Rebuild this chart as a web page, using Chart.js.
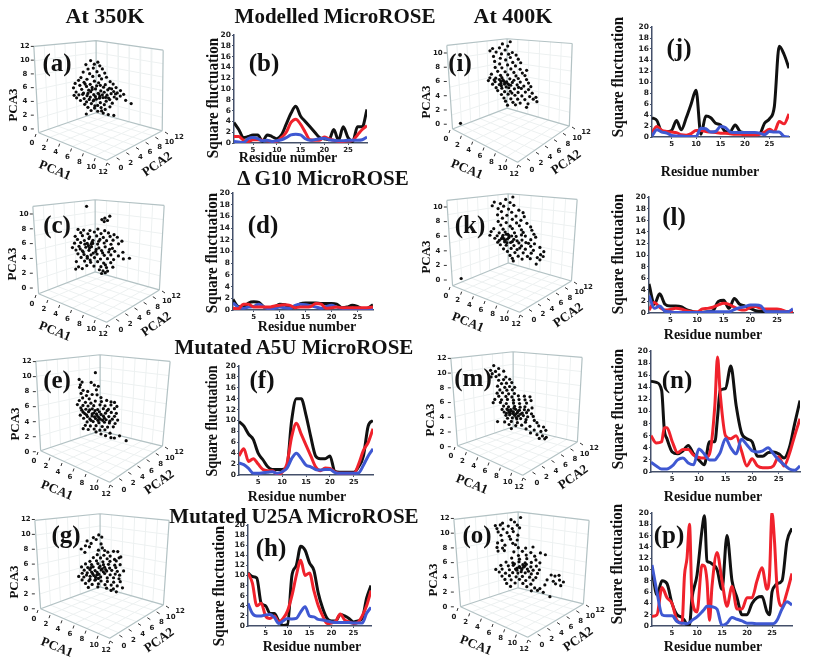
<!DOCTYPE html>
<html>
<head>
<meta charset="utf-8">
<title>MicroROSE PCA and square fluctuation</title>
<script src="https://cdn.jsdelivr.net/npm/chart.js@4"></script>
<style>
  html, body { margin: 0; padding: 0; background: #fff; }
  #page { position: relative; width: 813px; height: 665px; overflow: hidden; filter: blur(0.35px); }
  canvas { position: absolute; }
  .txt { position: absolute; white-space: nowrap; font-family: "Liberation Serif", serif; font-weight: bold; color: #111; transform-origin: center; }
</style>
</head>
<body>
<div id="page"></div>
<script>
// tick labels
const pca3Ticks = [0, 2, 4, 6, 8, 10, 12];
const pca3TicksShort = [0, 2, 4, 6, 8, 10];
const pcaTicks = [0, 2, 4, 6, 8, 10, 12];
const fluctTicks = [0, 2, 4, 6, 8, 10, 12, 14, 16, 18, 20];
const residueTicks = [5, 10, 15, 20, 25];

// residues
const residues28 = [1,2,3,4,5,6,7,8,9,10,11,12,13,14,15,16,17,18,19,20,21,22,23,24,25,26,27,28];
const residues29 = [1,2,3,4,5,6,7,8,9,10,11,12,13,14,15,16,17,18,19,20,21,22,23,24,25,26,27,28,29];
const residuesN = [1,2,3,3.5,4,5,6,7,8,9,10,11,12,13,13.5,14,15,16,17,18,19,20,21,22,23,24,25,26,27,28,29];
const residuesP = [1,2,3,4,5,6,7,7.5,8,8.5,9,10,11,11.5,12,12.5,13,14,15,16,17,18,19,20,21,22,23,24,24.5,25,25.5,26,27,28,29];

// square fluctuation series
const bBlack = [3.8,2.5,1,1.2,1.5,1.5,.3,1.5,1.2,.8,1.5,3.5,5.5,6.8,5,4,3,2,1,.8,.6,2.5,.5,3,1,.3,3,3,6.2];
const bRed = [1.2,1.2,.5,.3,.6,.6,.5,.4,.3,.3,1,2,3.8,4.4,3.5,2,.6,.5,.5,1.1,.8,.5,.3,.3,.4,.5,1.5,2.5,3.2];
const bBlue = [.3,.2,.1,.8,1,.8,.4,.5,.3,.4,.6,1,1.5,1.6,1.5,.8,.5,.6,.8,.9,.6,.5,.4,.4,.5,.5,.5,.6,1.1];

const dBlack = [1.8,.6,.5,1.2,1.4,1.3,.5,.4,.5,1,.9,.4,.5,1.1,1.2,1.2,1.2,1.1,1.1,1.1,1,.4,.5,.8,.6,.2,.3,.9];
const dRed = [.3,.2,1,1,.5,.5,.5,.5,.7,.8,.9,.8,.4,.5,.5,.6,1.1,1,.3,.4,.5,.4,.4,.4,.4,.4,.4,.5];
const dBlue = [1.2,.5,.3,.5,.6,1,.5,.2,.3,.5,.4,.3,.8,1,.9,.7,.5,.3,.6,.8,.5,.3,.2,.2,.2,.2,.2,.2];

const fBlack = [9.8,9,7.5,6.5,4,2.8,1.5,1,1,1,1.5,10,14,14,11,7,3.5,3,3,3.5,.7,.5,.5,.5,.5,1.5,3.5,9,10];
const fRed = [3.5,4.8,2.5,3,2,1,.8,.8,.1,.5,2,7,9.5,7.5,5.5,3.5,1.5,.8,1.3,1.2,.6,.3,.3,.3,.3,2,4.5,6,8.5];
const fBlue = [2.2,1.9,1.2,.3,.3,.4,.5,.6,.3,.6,1.2,3,4,3,1.8,1.5,1,.9,1,1,.5,.3,.3,.3,.3,.4,1.8,3.5,4.8];

const hBlack = [10.5,9.8,9.5,4.5,4,2.5,2.5,1,.1,.3,10,12,15.8,15,12.5,11,6.5,3.5,1.5,1,1,2.3,2,1.5,.8,1,1.5,5.5,8];
const hRed = [10.5,8.5,4,4.5,2,1.5,2,.8,1.5,3,6,10,13,10,10.5,7,4,2,.5,.6,1,2.4,1.2,.8,.5,.7,2,4,7];
const hBlue = [4.5,2.5,2,2,2.2,2.3,1.7,.5,1,1.5,1.4,1.5,2.8,3.8,2,1.8,1.3,1.2,1,.8,.7,.7,.7,.7,.6,.6,.6,2.5,3.7];

const jBlack = [3.5,3,1,1,1.2,3,1.3,3.5,6,8.5,.5,3.8,3.5,2.5,2.2,1,1,2.2,1,.8,.7,.6,.6,2.5,3.3,5.5,16.5,15,12.5];
const jRed = [.8,1.9,1.2,1,.9,.8,.4,.3,.6,1.2,1.2,1,.9,.8,.7,.7,.6,.5,.5,.4,.4,.4,.5,.9,1.4,1,2.8,2.4,4.2];
const jBlue = [.2,1.3,.9,.7,.3,.2,.2,.1,.1,.1,1.6,1.5,.9,1,1.9,1.7,.9,.8,.8,.8,.8,.8,.7,.4,1,.9,.9,.1,0];

const lBlack = [5,1.5,3.3,1.5,1.2,1.2,1.1,.6,.3,.1,.1,.2,.4,2,2.2,.8,2.5,1.5,1.2,.8,.4,.3,.2,.2,.2,.2,.2,.2];
const lRed = [.5,1.8,1,.5,.6,.8,.7,.4,.2,.2,.7,.8,1,1.4,1.7,1.5,1,.6,.5,1,1.1,.8,.7,.7,.7,.5,.2,.3];
const lBlue = [3,.8,1.2,.3,.2,.1,.1,.1,.1,.1,.1,.2,.2,.2,.2,.2,.6,.9,1.1,1.4,1.4,1.2,.2,.2,.2,.2,.2,.7];

const nBlack = [15,14.8,13.5,7,5.5,3.3,3,3.5,4.4,3,2,1.2,5,5,9,13.5,13.8,17.5,11,6.5,5.5,5,2.6,2.6,3.2,3.3,3,2.3,4,8,11.8];
const nRed = [6,4.8,5,7.3,7.3,5,3.2,3.7,3.7,2.8,2.4,2.3,3,11,19,13,6,5.5,6,3.5,1,2.2,1,.7,.7,1,2.5,1,3,6,8.8];
const nBlue = [1.6,1,.5,.5,.5,1,2,2.3,1.5,1.2,3.8,3,2,2,2.5,3.2,5.5,4,3,5.4,4.5,3.5,3.3,3.5,4,3,2,1.2,.5,.3,1];

const pBlack = [10,5.5,8,7.5,4,2,1.5,1,.2,.2,5,9,17,19.5,11.5,11.3,11,10,6.5,16,8,5,2,2,4,5,5.2,2.5,2,6,7,7.5,8,15,17.3];
const pRed = [1.7,2,6.8,5,4,1,.5,9,12,18,5,2.5,10.8,10.6,8,1,7,13,8,3.5,7,3,3,5,5,8,10.3,6.5,9,20,15,7,3.5,6,9.3];
const pBlue = [10.8,6,2,1.8,1.8,.8,.5,.5,.4,.6,1,1.6,2.5,3,3.5,3.5,3.4,3,.1,.5,1.5,1.2,.9,.5,.5,.4,.4,.4,.4,.4,.5,1,3,4.3,3.7];

// PCA scatter clouds, read as [across the box 0-12, PCA3]
const scatterA = [[5.27,9.93],[5.94,9.71],[5.61,9.42],[4.83,9.36],[6.12,9.18],[5.52,8.84],[5.03,8.71],[6.36,8.73],[5.86,8.33],[4.58,8.27],[6.58,8.12],[5.18,8.03],[6.07,7.74],[4.37,7.46],[5.47,7.63],[6.74,7.51],[4.93,7.22],[6.28,7.27],[4.15,7.06],[5.62,6.94],[7.08,6.87],[3.83,6.62],[4.66,6.78],[5.23,6.49],[6.01,6.71],[6.63,6.43],[7.36,6.52],[4.27,6.34],[3.68,5.97],[4.89,6.18],[5.41,6.03],[5.83,6.27],[6.47,6.07],[7.02,5.91],[7.63,6.01],[4.44,5.76],[5.09,5.63],[5.72,5.81],[6.21,5.52],[6.86,5.69],[7.41,5.44],[8.04,5.58],[3.92,5.37],[4.61,5.21],[5.28,5.42],[5.97,5.19],[6.53,5.33],[7.17,5.12],[7.74,5.24],[8.33,5.03],[4.18,4.96],[4.94,4.83],[5.56,4.98],[6.13,4.72],[6.79,4.91],[7.46,4.64],[8.02,4.77],[3.97,4.52],[4.67,4.41],[5.24,4.63],[5.81,4.34],[6.42,4.56],[7.04,4.27],[7.69,4.38],[8.52,4.16],[4.33,4.13],[4.89,3.94],[5.51,4.08],[6.17,3.82],[6.71,4.03],[7.28,3.74],[9.03,3.69],[4.72,3.57],[5.34,3.69],[5.92,3.41],[6.54,3.52],[7.06,3.22],[5.02,3.14],[5.63,3.03],[6.24,3.11],[6.62,2.84],[5.31,2.68],[5.93,2.57],[6.44,2.31],[4.87,2.17],[6.91,2.09],[7.42,1.96],[6.29,2.62],[5.58,4.22],[6.04,5.07],[5.02,5.16],[6.66,4.58],[5.41,5.74],[4.53,5.03],[6.36,4.97],[7.22,5.83],[5.71,4.71],[6.93,4.49],[5.14,4.29],[4.76,6.52],[6.17,6.34],[5.66,3.36],[7.58,5.08],[3.74,4.88],[6.09,4.47]];
const scatterC = [[4.91,11.03],[6.58,9.43],[7.03,9.71],[6.31,9.24],[6.52,8.97],[6.82,9.12],[4.13,7.92],[4.64,7.83],[5.22,7.77],[5.94,7.96],[6.57,7.74],[4.38,7.48],[5.03,7.33],[5.62,7.57],[6.23,7.36],[6.91,7.44],[7.42,7.21],[3.87,6.98],[4.53,7.07],[5.19,6.92],[5.83,7.04],[6.44,6.83],[7.06,6.97],[7.72,6.86],[4.08,6.57],[4.71,6.42],[5.12,6.68],[5.49,6.44],[6.13,6.56],[6.74,6.39],[7.33,6.47],[8.14,6.33],[3.81,6.06],[4.37,6.14],[4.97,6.02],[5.41,6.19],[5.92,5.94],[6.52,6.08],[7.14,5.91],[7.83,5.97],[3.62,5.47],[4.22,5.63],[4.84,5.51],[5.36,5.58],[6.03,5.42],[6.61,5.57],[7.27,5.36],[3.94,5.14],[4.53,5.02],[5.13,5.09],[5.74,4.93],[6.28,5.06],[6.93,4.87],[7.48,4.96],[8.23,4.83],[4.12,4.62],[4.68,4.53],[5.32,4.48],[5.87,4.59],[6.53,4.42],[7.13,4.47],[7.82,4.33],[4.41,4.14],[4.98,4.03],[5.63,4.11],[6.18,3.92],[6.82,3.97],[7.38,3.84],[8.27,3.93],[8.83,4.02],[3.98,3.58],[4.73,3.64],[5.28,3.47],[5.92,3.56],[6.47,3.37],[7.12,3.43],[4.18,2.87],[4.93,3.04],[5.58,2.96],[6.22,2.88],[6.73,2.77],[7.31,2.82],[3.92,2.56],[4.52,2.63],[6.08,2.47],[6.41,2.31],[6.62,2.08],[6.83,2.29],[6.28,1.96],[5.08,5.72],[5.33,5.94],[4.97,4.27],[5.18,5.41],[5.47,6.03],[4.76,5.93],[5.52,4.72],[6.02,6.32],[4.61,4.86],[5.24,3.78],[6.38,4.74],[7.01,5.23],[5.79,5.22],[4.33,5.28],[6.63,3.12]];
const scatterE = [[5.32,10.52],[3.87,9.63],[4.13,9.27],[3.98,8.91],[3.91,8.57],[4.94,9.23],[5.23,8.86],[5.58,8.72],[4.22,8.18],[4.63,8.03],[5.41,8.24],[4.04,7.77],[4.52,7.48],[5.03,7.62],[5.47,7.58],[5.82,7.21],[4.18,7.17],[4.77,7.04],[3.88,6.82],[4.43,6.58],[4.92,6.47],[5.31,6.74],[5.86,6.68],[6.33,6.83],[6.72,6.63],[7.03,6.57],[3.71,6.28],[4.21,6.17],[4.66,6.09],[5.17,6.13],[5.73,6.24],[6.18,6.12],[6.71,6.22],[7.24,6.03],[4.02,5.83],[4.47,5.66],[5.04,5.72],[5.52,5.61],[6.03,5.74],[6.48,5.63],[7.02,5.73],[4.23,5.27],[4.71,5.34],[5.18,5.16],[5.68,5.31],[6.22,5.14],[6.74,5.23],[7.19,5.12],[3.97,4.87],[4.53,4.92],[5.02,4.76],[5.47,4.83],[6.04,4.74],[6.52,4.68],[7.03,4.72],[4.27,4.46],[4.82,4.37],[5.33,4.43],[5.76,4.34],[6.28,4.26],[6.83,4.33],[7.31,4.21],[4.58,3.97],[5.12,4.02],[5.63,3.87],[6.13,3.93],[6.57,3.84],[7.08,3.76],[4.42,3.52],[4.87,3.44],[5.38,3.47],[5.93,3.36],[6.41,3.28],[6.92,3.32],[4.23,3.07],[4.68,2.96],[5.21,3.03],[5.72,2.88],[6.17,2.93],[6.63,2.47],[5.38,2.64],[5.82,2.36],[6.23,2.14],[6.71,1.87],[7.02,1.83],[7.48,2.12],[8.07,1.48],[5.03,5.04],[5.61,4.57],[4.81,5.57],[5.24,4.66],[5.97,4.18],[4.37,5.08],[4.93,4.18],[5.42,5.03],[5.83,4.97],[6.37,5.47],[4.61,4.68],[5.29,5.48],[6.61,4.07],[4.11,5.53],[5.54,4.18],[6.12,4.47]];
const scatterG = [[5.71,9.92],[5.23,9.57],[5.48,9.31],[5.98,9.63],[4.67,9.12],[5.03,8.78],[4.52,8.47],[4.88,8.33],[5.92,8.71],[6.03,8.18],[4.14,8.03],[5.68,7.87],[6.24,7.83],[4.47,7.58],[6.52,7.61],[7.03,7.72],[7.41,7.68],[5.58,7.27],[6.17,7.19],[6.73,7.08],[7.68,6.97],[5.23,6.88],[5.87,6.83],[6.46,6.72],[7.12,6.63],[7.53,6.84],[4.92,6.37],[5.51,6.44],[6.08,6.32],[6.71,6.38],[7.27,6.43],[4.53,6.02],[5.07,5.94],[5.63,6.07],[6.13,5.93],[6.58,5.97],[7.14,5.86],[7.62,5.92],[4.17,5.62],[4.73,5.53],[5.21,5.64],[5.74,5.52],[6.23,5.58],[6.68,5.47],[7.23,5.53],[4.41,5.18],[4.92,5.26],[5.38,5.13],[5.93,5.22],[6.42,5.07],[6.87,5.16],[7.37,5.03],[7.93,5.08],[4.23,4.77],[4.68,4.84],[5.17,4.72],[5.72,4.63],[6.24,4.74],[6.73,4.57],[7.18,4.66],[3.92,4.34],[4.38,4.27],[4.94,4.36],[5.43,4.22],[5.88,4.28],[6.47,4.14],[7.03,4.17],[7.52,4.03],[4.22,3.87],[4.83,3.76],[5.37,3.84],[5.92,3.73],[6.48,3.68],[7.04,3.57],[7.63,3.64],[4.53,3.41],[5.12,3.27],[5.68,3.36],[6.27,3.24],[6.82,3.18],[7.36,3.07],[4.78,2.87],[5.63,2.93],[6.41,2.76],[7.02,2.68],[7.83,2.81],[5.42,3.93],[5.53,4.54],[5.01,5.53],[6.02,5.37],[6.81,2.47],[7.28,2.27],[5.27,4.47],[5.68,4.08],[5.07,4.93],[5.57,4.88],[6.12,4.96],[4.62,4.53],[5.83,5.74],[6.33,5.26],[4.93,3.94],[7.57,4.52]];
const scatterI = [[1.31,0.12],[6.07,11.58],[5.32,11.27],[5.83,10.97],[4.38,10.63],[5.04,10.72],[4.13,10.31],[5.58,10.42],[6.27,10.07],[4.72,10.13],[5.23,9.87],[5.92,9.83],[6.63,9.71],[4.47,9.52],[6.08,9.37],[5.12,9.26],[5.63,9.03],[6.84,9.13],[4.58,8.82],[6.31,8.67],[7.07,8.63],[5.06,8.47],[5.82,8.33],[6.57,8.18],[4.63,7.97],[5.27,7.92],[6.13,7.77],[7.02,7.72],[7.64,7.57],[4.87,7.43],[5.58,7.37],[6.42,7.27],[7.23,7.18],[4.27,7.03],[5.14,6.87],[5.83,6.93],[6.62,6.78],[7.48,6.83],[4.12,6.52],[4.68,6.47],[5.27,6.54],[6.03,6.37],[6.84,6.42],[7.63,6.27],[3.98,6.13],[4.62,5.97],[5.18,6.03],[5.72,5.96],[6.27,5.87],[7.03,5.92],[7.82,5.77],[4.38,5.62],[5.03,5.57],[5.52,5.63],[6.12,5.47],[6.73,5.53],[7.37,5.36],[8.04,5.27],[4.72,5.13],[5.27,5.06],[5.93,5.12],[6.47,4.97],[7.13,5.03],[7.82,4.87],[4.87,4.73],[5.53,4.57],[6.08,4.63],[6.82,4.47],[7.52,4.52],[8.17,4.36],[5.23,4.17],[5.87,4.22],[6.52,4.07],[7.18,3.97],[7.93,3.88],[8.53,3.77],[5.47,3.68],[6.13,3.57],[6.78,3.52],[7.47,3.46],[8.27,3.52],[8.62,3.17],[5.62,3.23],[6.33,3.07],[7.02,2.97],[7.77,2.87],[5.81,2.68],[6.57,2.72],[7.63,2.37],[5.38,6.23],[5.61,5.82],[5.22,5.41],[5.84,5.67],[5.47,6.02],[5.03,6.28],[5.68,5.23],[5.97,5.53],[6.42,6.17],[5.18,5.73],[6.23,4.37],[4.53,6.23],[6.87,5.17]];
const scatterK = [[1.32,0.21],[6.08,11.37],[5.42,11.04],[4.37,10.68],[4.93,10.47],[5.82,10.62],[4.18,10.17],[5.23,10.12],[6.17,10.23],[4.72,9.78],[5.68,9.72],[6.63,9.57],[5.03,9.37],[5.97,9.28],[7.02,9.23],[4.67,8.93],[5.53,8.87],[6.37,8.76],[7.13,8.67],[5.12,8.47],[6.03,8.32],[6.82,8.18],[4.73,8.03],[5.47,7.87],[6.42,7.82],[7.37,7.76],[4.97,7.53],[5.83,7.37],[6.68,7.43],[7.72,7.27],[4.32,7.03],[5.18,6.97],[6.03,7.04],[6.87,6.87],[7.83,6.82],[4.08,6.63],[4.82,6.47],[5.37,6.58],[6.23,6.47],[7.03,6.52],[8.02,6.27],[3.97,6.13],[4.63,6.06],[5.17,6.12],[5.72,6.07],[6.38,5.97],[7.23,6.02],[8.18,5.87],[4.42,5.72],[5.03,5.66],[5.58,5.62],[6.17,5.57],[6.92,5.47],[7.73,5.53],[4.68,5.17],[5.32,5.23],[5.87,5.14],[6.63,5.08],[7.28,5.13],[8.07,4.97],[4.93,4.83],[5.47,4.76],[6.18,4.72],[6.87,4.67],[7.72,4.62],[8.57,4.47],[5.22,4.27],[5.92,4.33],[6.47,4.17],[7.23,4.22],[7.97,4.07],[8.93,3.88],[5.58,3.92],[6.27,3.76],[7.03,3.72],[7.77,3.67],[8.63,3.47],[5.82,3.37],[6.57,3.27],[7.42,3.23],[8.33,3.07],[8.87,3.22],[6.03,2.97],[6.93,2.87],[7.68,2.92],[8.57,2.77],[6.12,2.62],[8.23,2.18],[5.47,6.27],[5.72,5.82],[5.37,5.43],[5.97,6.03],[5.12,5.87],[5.62,6.27],[5.28,5.63],[6.47,5.37],[6.03,5.27],[5.53,5.12],[6.72,4.37],[7.52,5.03],[4.83,5.43],[6.87,6.17]];
const scatterM = [[3.92,11.02],[4.37,10.63],[3.63,10.38],[4.08,10.23],[4.83,10.27],[3.78,9.92],[4.41,9.77],[3.68,9.48],[4.13,9.53],[5.02,9.47],[4.37,9.03],[4.82,9.12],[5.38,9.17],[4.63,8.58],[5.08,8.63],[5.57,8.72],[4.27,8.23],[4.93,8.07],[5.37,8.18],[5.83,8.07],[4.48,7.72],[5.12,7.68],[5.62,7.73],[4.23,7.27],[4.72,7.33],[5.28,7.18],[5.81,7.23],[4.38,6.87],[5.03,6.83],[5.58,6.77],[6.17,6.92],[6.72,6.87],[7.23,6.78],[4.02,6.42],[4.63,6.37],[5.17,6.43],[5.72,6.33],[6.23,6.41],[6.78,6.37],[7.33,6.27],[3.87,5.98],[4.53,6.02],[5.07,5.87],[5.73,5.93],[6.28,5.87],[6.92,5.93],[4.82,5.52],[5.27,5.43],[5.83,5.47],[6.33,5.37],[6.77,5.43],[7.42,5.27],[4.68,5.07],[5.13,5.12],[5.47,5.03],[5.92,5.08],[6.27,4.97],[6.72,5.03],[7.08,4.97],[4.87,4.72],[5.32,4.67],[5.72,4.73],[6.08,4.62],[6.53,4.57],[6.92,4.63],[7.37,4.47],[5.03,4.27],[5.37,4.33],[5.83,4.27],[6.18,4.18],[6.63,4.23],[7.02,4.07],[7.53,4.12],[5.18,3.87],[5.62,3.93],[6.03,3.77],[6.38,3.83],[6.87,3.67],[7.63,3.57],[4.27,3.42],[4.92,3.37],[5.53,3.43],[6.08,3.27],[6.82,3.33],[7.87,3.27],[5.32,3.02],[5.93,2.87],[6.47,2.93],[7.23,2.77],[8.03,2.83],[8.47,2.68],[5.53,2.47],[6.87,2.42],[7.62,2.27],[8.23,2.08],[8.68,2.23],[7.28,1.87],[7.87,1.63],[8.37,1.47],[8.72,1.27],[8.08,1.12],[8.58,1.07],[5.68,4.52],[5.52,4.87],[5.93,4.43],[5.23,4.97],[5.77,5.23],[6.13,4.83],[5.43,4.53],[5.97,3.97],[5.07,4.52],[6.37,4.43]];
const scatterO = [[5.92,12.13],[5.07,11.83],[4.32,11.37],[5.38,11.52],[3.68,11.03],[4.12,11.12],[4.83,10.97],[5.63,11.08],[3.82,10.62],[4.37,10.57],[5.18,10.63],[5.83,10.72],[3.93,10.17],[4.72,10.07],[5.27,10.22],[4.18,9.72],[4.92,9.57],[5.68,9.73],[5.03,9.18],[5.62,9.07],[4.27,9.02],[3.88,8.68],[5.23,8.62],[4.53,8.37],[5.47,8.43],[3.83,8.07],[4.32,7.97],[5.72,8.03],[6.37,7.97],[7.02,8.12],[3.92,7.57],[4.48,7.63],[5.32,7.47],[6.08,7.53],[6.83,7.37],[7.68,7.32],[8.12,7.07],[5.73,6.97],[6.42,7.03],[7.17,6.87],[5.13,6.62],[5.82,6.47],[6.47,6.53],[7.28,6.37],[4.63,6.07],[5.23,5.97],[5.78,6.12],[6.32,5.96],[6.87,6.03],[7.63,5.97],[4.17,5.63],[4.83,5.57],[5.27,5.63],[5.82,5.47],[6.28,5.52],[6.83,5.43],[7.32,5.53],[3.72,5.07],[4.28,5.13],[4.93,5.03],[5.47,5.12],[6.03,5.07],[6.52,5.13],[7.03,4.97],[7.58,5.03],[4.03,4.73],[4.58,4.57],[5.22,4.63],[5.68,4.58],[6.33,4.62],[6.87,4.47],[7.42,4.53],[4.27,4.17],[4.93,4.23],[5.52,4.07],[6.08,4.13],[6.72,4.03],[7.27,3.97],[8.63,4.32],[8.97,4.17],[9.33,4.27],[4.53,3.72],[5.08,3.67],[5.82,3.73],[6.38,3.57],[7.03,3.63],[8.27,3.67],[8.82,3.47],[9.37,3.63],[9.72,3.37],[4.68,3.17],[5.43,3.23],[6.12,3.17],[6.83,3.07],[8.07,2.97],[9.02,3.12],[9.48,2.87],[5.03,2.77],[6.47,2.73],[7.17,2.57],[7.63,2.47],[6.87,2.17],[7.42,2.23],[7.93,1.97],[8.52,1.37],[5.87,5.33],[6.12,5.72],[5.58,4.97],[6.17,5.37],[5.62,5.27],[5.97,4.77],[6.43,5.77],[5.37,5.82],[6.62,4.83]];

// panel layout, page pixels
const lineLayouts = [
  { id: 'b', axisX: 234, end: 367, top: 35, bottom: 143, x: residues29, black: bBlack, red: bRed, blue: bBlue },
  { id: 'd', axisX: 233, end: 373, top: 193, bottom: 310, x: residues28, black: dBlack, red: dRed, blue: dBlue, redOnTop: true },
  { id: 'f', axisX: 239, end: 373, top: 366, bottom: 475, x: residues29, black: fBlack, red: fRed, blue: fBlue },
  { id: 'h', axisX: 248, end: 371, top: 525, bottom: 626, x: residues29, black: hBlack, red: hRed, blue: hBlue },
  { id: 'j', axisX: 652, end: 789, top: 27, bottom: 137, x: residues29, black: jBlack, red: jRed, blue: jBlue },
  { id: 'l', axisX: 649, end: 793, top: 197, bottom: 313, x: residues28, black: lBlack, red: lRed, blue: lBlue },
  { id: 'n', axisX: 651, end: 800, top: 351, bottom: 472, x: residuesN, black: nBlack, red: nRed, blue: nBlue },
  { id: 'p', axisX: 652, end: 792, top: 513, bottom: 626, x: residuesP, black: pBlack, red: pRed, blue: pBlue }
];

const boxLayouts = [
  { id: 'a', pts: scatterA, ticks: pca3Ticks, axisX: 31, y0: 130, unit: 7.25, LT: [31,43], BT: [96,37], RT: [166,47], LB: [36,134], BB: [96,113], RB: [165,132], F: [107,163] },
  { id: 'c', pts: scatterC, ticks: pca3TicksShort, axisX: 30, y0: 289, unit: 7.8, LT: [30,203], BT: [95,196], RT: [167,202], LB: [36,295], BB: [95,272], RB: [162,291], F: [107,325] },
  { id: 'e', pts: scatterE, ticks: pca3Ticks, axisX: 33, y0: 453, unit: 7.9, LT: [33,358], BT: [100,351], RT: [173,358], LB: [38,452], BB: [100,431], RB: [165,447], F: [110,485] },
  { id: 'g', pts: scatterG, ticks: pca3Ticks, axisX: 32, y0: 610, unit: 7.83, LT: [32,517], BT: [100,510], RT: [172,517], LB: [38,610], BB: [100,587], RB: [166,606], F: [110,641] },
  { id: 'i', pts: scatterI, ticks: pca3TicksShort, axisX: 444, y0: 125, unit: 7.5, LT: [444,42], BT: [507,35], RT: [575,40], LB: [450,130], BB: [507,108], RB: [572,127], F: [518,165] },
  { id: 'k', pts: scatterK, ticks: pca3TicksShort, axisX: 444, y0: 281, unit: 7.7, LT: [444,197], BT: [508,190], RT: [580,196], LB: [450,287], BB: [508,263], RB: [574,282], F: [520,315] },
  { id: 'm', pts: scatterM, ticks: pca3Ticks, axisX: 448, y0: 448, unit: 7.75, LT: [448,355], BT: [513,348], RT: [585,354], LB: [455,447], BB: [513,427], RB: [580,443], F: [523,478] },
  { id: 'o', pts: scatterO, ticks: pca3Ticks, axisX: 451, y0: 608, unit: 7.75, LT: [451,516], BT: [518,508], RT: [592,517], LB: [458,608], BB: [518,588], RB: [586,605], F: [528,640] }
];

const page = document.getElementById('page');

function addText(text, x, y, size, rot, squeeze) {
  const el = document.createElement('div');
  el.className = 'txt';
  el.textContent = text;
  el.style.left = x + 'px';
  el.style.top = y + 'px';
  el.style.fontSize = size + 'px';
  el.style.transform = `translate(-50%,-50%) rotate(${rot || 0}deg) scaleX(${squeeze || 1})`;
  page.appendChild(el);
}

function addCanvas(left, top, w, h) {
  const c = document.createElement('canvas');
  c.width = w; c.height = h;
  c.style.left = left + 'px';
  c.style.top = top + 'px';
  c.style.width = w + 'px';
  c.style.height = h + 'px';
  page.appendChild(c);
  return c;
}

const lerp = (a, b, t) => [a[0] + (b[0] - a[0]) * t, a[1] + (b[1] - a[1]) * t];

function createLineChart(p) {
  const leftW = 24, topP = 8, axisH = 14, rightP = 8;
  const canvas = addCanvas(p.axisX - leftW, p.top - topP, leftW + (p.end - p.axisX) + rightP, topP + (p.bottom - p.top) + axisH);
  const mk = (vals, color) => ({
    data: p.x.map((r, i) => ({ x: r, y: vals[i] })),
    borderColor: color, borderWidth: 3, pointRadius: 0, tension: 0.25, cubicInterpolationMode: 'monotone'
  });
  const black = mk(p.black, '#111111'), red = mk(p.red, '#f0222c'), blue = mk(p.blue, '#3f58d2');
  new Chart(canvas, {
    type: 'line',
    data: { datasets: p.redOnTop ? [red, blue, black] : [blue, red, black] },
    options: {
      responsive: false, animation: false,
      layout: { padding: { top: topP, right: rightP, left: 0, bottom: 0 } },
      plugins: { legend: { display: false }, tooltip: { enabled: false } },
      scales: {
        x: {
          type: 'linear', min: 1, max: p.x[p.x.length - 1],
          grid: { display: true, drawOnChartArea: false, tickLength: 2, color: '#44506a' }, border: { color: '#44506a', width: 1.5 },
          afterBuildTicks: s => { s.ticks = residueTicks.map(v => ({ value: v })); },
          afterFit: s => { s.height = axisH; },
          ticks: { font: { size: 7, weight: 'bold', family: 'DejaVu Sans' }, color: '#222', padding: 1, maxRotation: 0, autoSkip: false }
        },
        y: {
          min: 0, max: 20,
          grid: { display: true, drawOnChartArea: false, tickLength: 2, color: '#44506a' }, border: { color: '#44506a', width: 1.5 },
          afterBuildTicks: s => { s.ticks = fluctTicks.map(v => ({ value: v })); },
          afterFit: s => { s.width = leftW; },
          ticks: { font: { size: 7.5, weight: 'bold', family: 'DejaVu Sans' }, color: '#222', padding: 1, autoSkip: false }
        }
      }
    }
  });
}

// draws the tick marks and tick labels of the three box axes
const boxAxes = {
  id: 'boxAxes',
  afterDraw(chart, args, opts) {
    const b = opts.box, ctx = chart.ctx, ox = opts.ox, oy = opts.oy;
    ctx.save();
    ctx.fillStyle = '#1a1a1a'; ctx.strokeStyle = '#333'; ctx.lineWidth = 1;
    ctx.font = 'bold 7px "DejaVu Sans"';
    ctx.textAlign = 'center'; ctx.textBaseline = 'middle';
    b.ticks.forEach(v => {
      const y = chart.scales.y.getPixelForValue(v), x = chart.scales.x.getPixelForValue(0);
      ctx.beginPath(); ctx.moveTo(x - 3, y); ctx.lineTo(x, y); ctx.stroke();
      ctx.fillText(v, x - 9, y);
    });
    pcaTicks.forEach(v => {
      const t = v / 12;
      const a = lerp(b.LB, b.F, t), c = lerp(b.F, b.RB, t);
      ctx.beginPath(); ctx.moveTo(a[0] - ox, a[1] - oy); ctx.lineTo(a[0] - ox - 1, a[1] - oy + 3); ctx.stroke();
      ctx.fillText(v, a[0] - ox - 4, a[1] - oy + 9);
      ctx.beginPath(); ctx.moveTo(c[0] - ox, c[1] - oy); ctx.lineTo(c[0] - ox + 3, c[1] - oy + 2); ctx.stroke();
      ctx.fillText(v, c[0] - ox + 14, c[1] - oy + 5);
    });
    ctx.restore();
  }
};

function createBoxChart(b) {
  const left = b.axisX - 28, top = b.LT[1] - 12;
  const w = b.RT[0] - b.axisX + 56, h = b.F[1] - b.LT[1] + 36;
  const canvas = addCanvas(left, top, w, h);
  const pxU = (b.RT[0] - b.axisX) / 12;
  const toData = q => ({ x: (q[0] - b.axisX) / pxU, y: (b.y0 - q[1]) / b.unit });
  const seg = (list, a, c) => { list.push(toData(a), toData(c), { x: NaN, y: NaN }); };

  const frame = [], grid = [];
  [[b.LT,b.BT],[b.BT,b.RT],[b.LT,b.LB],[b.BT,b.BB],[b.RT,b.RB],[b.LB,b.BB],[b.BB,b.RB],[b.LB,b.F],[b.F,b.RB]].forEach(e => seg(frame, e[0], e[1]));
  for (let i = 1; i < 6; i++) {
    const t = i / 6;
    seg(grid, lerp(b.LB, b.F, t), lerp(b.BB, b.RB, t));
    seg(grid, lerp(b.F, b.RB, t), lerp(b.LB, b.BB, t));
    seg(grid, lerp(b.LT, b.LB, t), lerp(b.BT, b.BB, t));
    seg(grid, lerp(b.BT, b.BB, t), lerp(b.RT, b.RB, t));
    seg(grid, lerp(b.LT, b.BT, t), lerp(b.LB, b.BB, t));
    seg(grid, lerp(b.BT, b.RT, t), lerp(b.BB, b.RB, t));
  }

  new Chart(canvas, {
    type: 'scatter',
    data: {
      datasets: [
        { data: b.pts.map(q => ({ x: q[0], y: q[1] })), backgroundColor: '#0c0c0c', borderWidth: 0, pointRadius: 1.6 },
        { data: frame, showLine: true, borderColor: '#b3c2c4', borderWidth: 1.2, pointRadius: 0, spanGaps: false },
        { data: grid, showLine: true, borderColor: '#edf1f1', borderWidth: 1, pointRadius: 0, spanGaps: false }
      ]
    },
    options: {
      responsive: false, animation: false,
      plugins: { legend: { display: false }, tooltip: { enabled: false }, boxAxes: { box: b, ox: left, oy: top } },
      scales: {
        x: { type: 'linear', display: false, min: (left - b.axisX) / pxU, max: (left + w - b.axisX) / pxU },
        y: { type: 'linear', display: false, min: (b.y0 - top - h) / b.unit, max: (b.y0 - top) / b.unit }
      }
    },
    plugins: [boxAxes]
  });

  addText('PCA3', b.axisX - 18, (b.LT[1] + b.y0) / 2 + 18, 13, -90);
  addText('PCA1', (b.LB[0] + b.F[0]) / 2 - 17, (b.LB[1] + b.F[1]) / 2 + 21, 13, 22);
  addText('PCA2', (b.F[0] + b.RB[0]) / 2 + 21, (b.F[1] + b.RB[1]) / 2 + 16, 13, -35);
}

boxLayouts.forEach(createBoxChart);
lineLayouts.forEach(createLineChart);

// headings
addText('At 350K', 105, 16, 22);
addText('Modelled MicroROSE', 335, 16, 21);
addText('At 400K', 513, 16, 22);
addText('Δ G10 MicroROSE', 323, 178, 21);
addText('Mutated A5U MicroROSE', 294, 347, 21);
addText('Mutated U25A MicroROSE', 294, 516, 21);

// panel letters
[['(a)',57,63],['(b)',264,63],['(c)',57,225],['(d)',263,225],['(e)',57,380],['(f)',262,380],['(g)',66,535],['(h)',271,548],
 ['(i)',460,63],['(j)',679,48],['(k)',470,225],['(l)',674,217],['(m)',473,378],['(n)',677,380],['(o)',477,535],['(p)',669,535]]
  .forEach(l => addText(l[0], l[1], l[2], 25));

// axis titles of the line panels
[[213,98,.89],[212,253,.89],[212,421,.82],[219,586,.89],[618,77,.89],[618,254,.89],[618,409,.89],[617,564,.89]]
  .forEach(q => addText('Square fluctuation', q[0], q[1], 17, -90, q[2]));
[[288,158],[307,327],[297,497],[312,647],[710,172],[713,335],[713,497],[713,647]]
  .forEach(q => addText('Residue number', q[0], q[1], 14));
</script>
</body>
</html>
